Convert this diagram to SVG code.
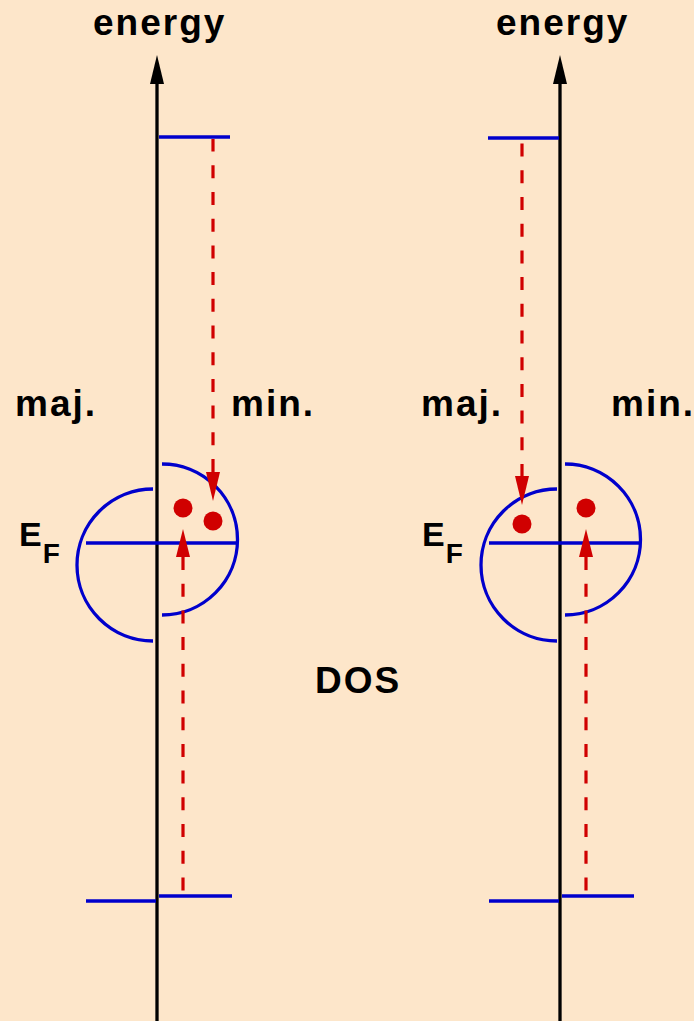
<svg xmlns="http://www.w3.org/2000/svg" width="694" height="1021" viewBox="0 0 694 1021">
<style>
.t{font-family:"Liberation Sans",Arial,sans-serif;font-weight:bold;fill:#000;font-size:37px;letter-spacing:2px}
.ax{stroke:#000;stroke-width:3.3;fill:none}
.b{stroke:#0000CC;stroke-width:3.3;fill:none}
.r{stroke:#D00000;stroke-width:3.2;fill:none;stroke-dasharray:13 13.7}
.dot{fill:#D00000}
.ah{fill:#000}
.rh{fill:#D00000}
</style>
<rect width="694" height="1021" fill="#FDE6CA"/>
<g id="left-diagram">
  <g id="left-axis">
    <line class="ax" x1="157" y1="80" x2="157" y2="1021"/>
    <polygon class="ah" points="157,55 150,84 164,84"/>
    <text class="t" x="93" y="35">energy</text>
  </g>
  <g id="left-levels">
    <line class="b" x1="159" y1="137" x2="230" y2="137"/>
    <line class="b" x1="86" y1="901" x2="156" y2="901"/>
    <line class="b" x1="159" y1="896" x2="232" y2="896"/>
  </g>
  <g id="left-dos">
    <path class="b" d="M153,489 A76,76 0 0 0 153,641"/>
    <path class="b" d="M162,464 A75.5,75.5 0 0 1 162,615"/>
    <line class="b" x1="86" y1="543" x2="237" y2="543"/>
    <circle class="dot" cx="183" cy="508" r="9.5"/>
    <circle class="dot" cx="213" cy="521" r="9.5"/>
  </g>
  <g id="left-labels">
    <text class="t" x="15" y="416">maj.</text>
    <text class="t" x="231" y="416">min.</text>
    <text class="t" x="19" y="546" style="font-size:34px">E<tspan dx="-1" dy="17" style="font-size:28px">F</tspan></text>
  </g>
</g>
<g id="right-diagram">
  <g id="right-axis">
    <line class="ax" x1="560" y1="80" x2="560" y2="1021"/>
    <polygon class="ah" points="560,55 553,84 567,84"/>
    <text class="t" x="496" y="35">energy</text>
  </g>
  <g id="right-levels">
    <line class="b" x1="488" y1="138" x2="559" y2="138"/>
    <line class="b" x1="489" y1="901" x2="559" y2="901"/>
    <line class="b" x1="562" y1="896" x2="634" y2="896"/>
  </g>
  <g id="right-dos">
    <path class="b" d="M557,489 A76,76 0 0 0 557,641"/>
    <path class="b" d="M565,464 A75.5,75.5 0 0 1 565,615"/>
    <line class="b" x1="489" y1="543" x2="640" y2="543"/>
    <circle class="dot" cx="522" cy="524" r="9.5"/>
    <circle class="dot" cx="586" cy="508" r="9.5"/>
  </g>
  <g id="right-labels">
    <text class="t" x="421" y="416">maj.</text>
    <text class="t" x="611" y="416">min.</text>
    <text class="t" x="422" y="546" style="font-size:34px">E<tspan dx="-1" dy="17" style="font-size:28px">F</tspan></text>
  </g>
</g>
<text class="t" x="315" y="693">DOS</text>
<g id="connectors">
  <path class="r" d="M213,472 L213,139"/>
  <polygon class="rh" points="213,501 206,472 220,472"/>
  <path class="r" d="M183,557 L183,895"/>
  <polygon class="rh" points="183,529 176,557 190,557"/>
  <path class="r" d="M522,477 L522,140"/>
  <polygon class="rh" points="522,505 515,476 529,476"/>
  <path class="r" d="M586,557 L586,895"/>
  <polygon class="rh" points="586,529 579,557 593,557"/>
</g>
</svg>
